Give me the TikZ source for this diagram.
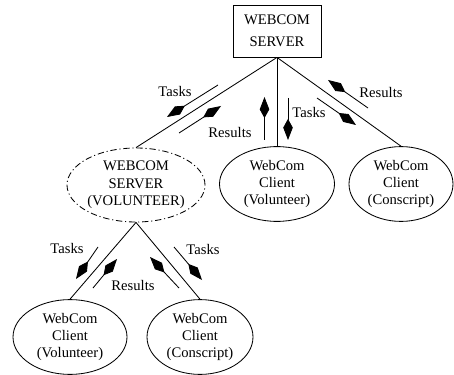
\documentclass[tikz,border=0pt]{standalone}
\usepackage{fontspec}
\setmainfont{Liberation Serif}
\usetikzlibrary{arrows.meta,positioning,shapes.geometric}

\begin{document}
\begin{tikzpicture}[
    line width=0.6pt,
    server/.style={rectangle, draw, minimum width=2.2cm, minimum height=1.3cm, align=center, font=\fontsize{10.4}{15.6}\selectfont},
    volserver/.style={ellipse, draw, dash pattern=on 4.5pt off 2pt on 0.8pt off 2pt, inner sep=0pt, minimum width=3.45cm, minimum height=1.85cm, align=center, font=\fontsize{10.4}{12.4}\selectfont},
    client/.style={ellipse, draw, inner sep=0pt, minimum height=1.87cm, align=center, font=\fontsize{10.4}{12.4}\selectfont},
    link/.style={draw},
    flow/.style={-{Kite[length=15pt, width=6.8pt, inset=6.2pt]}},
    note/.style={font=\fontsize{10.4}{12.4}\selectfont, inner sep=0pt}
]
\useasboundingbox (0,0) rectangle (11.35,9.35);

% Servers
\node[server] (srv) at (6.925,8.575) {WEBCOM\\SERVER};
\node[volserver] (vsrv) at (3.4,4.725) {WEBCOM\\SERVER\\(VOLUNTEER)};

% Clients
\node[client, minimum width=2.875cm] (cvol) at (6.925,4.75) {WebCom\\Client\\(Volunteer)};
\node[client, minimum width=2.6cm] (ccon) at (10.025,4.75) {WebCom\\Client\\(Conscript)};
\node[client, minimum width=2.85cm] (lvol) at (1.75,0.925) {WebCom\\Client\\(Volunteer)};
\node[client, minimum width=2.65cm] (lcon) at (5.0,0.925) {WebCom\\Client\\(Conscript)};

% Links
\draw[link] (srv.south) -- (vsrv.north);
\draw[link] (srv.south) -- (cvol.north);
\draw[link] (srv.south) -- (ccon.north);
\draw[link] (vsrv.south) -- (lvol.north);
\draw[link] (vsrv.south) -- (lcon.north);

% Tasks / results along the top links
\draw[flow] (5.45,7.225) -- (4.175,6.425);
\draw[flow] (4.475,6.025) -- (5.525,6.7);
\draw[flow] (6.6125,5.85) -- (6.6125,6.925);
\draw[flow] (7.2,6.9) -- (7.2,5.85);
\draw[flow] (9.2,6.65) -- (8.2,7.35);
\draw[flow] (7.925,6.9) -- (8.9,6.225);

\node[note] (t1) at (4.375,7.05) {Tasks};
\node[note] (r1) at (5.75,6.05) {Results};
\node[note] (t2) at (7.725,6.525) {Tasks};
\node[note] (r2) at (9.525,7.025) {Results};

% Tasks / results along the volunteer links
\draw[flow] (2.45,3.175) -- (1.9,2.375);
\draw[flow] (2.325,2.15) -- (2.925,2.875);
\draw[flow] (4.475,2.15) -- (3.75,2.925);
\draw[flow] (4.35,3.175) -- (5.05,2.35);

\node[note] (t3) at (1.675,3.15) {Tasks};
\node[note] (r3) at (3.325,2.225) {Results};
\node[note] (t4) at (5.075,3.125) {Tasks};

\end{tikzpicture}
\end{document}
